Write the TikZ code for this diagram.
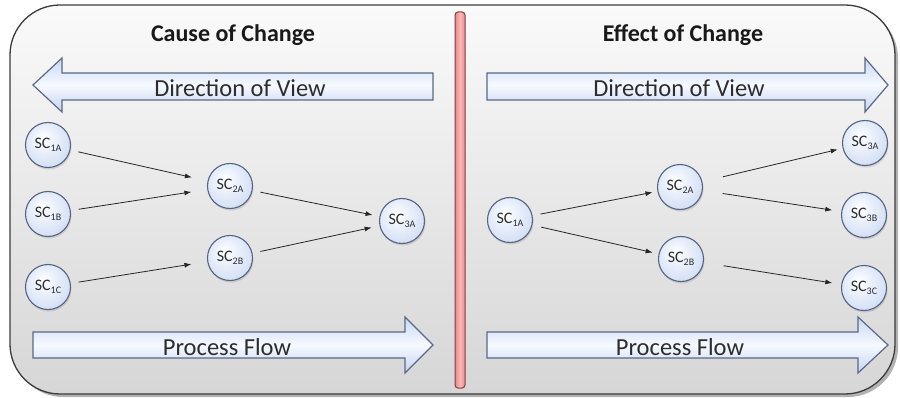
\documentclass[tikz,border=0pt]{standalone}
\usepackage{fontspec}
\setmainfont{Carlito}
\usetikzlibrary{arrows.meta,shadows}
\definecolor{panelborder}{RGB}{60,60,60}
\definecolor{paneltop}{RGB}{250,250,250}
\definecolor{panelbot}{RGB}{214,214,214}
\definecolor{arrborder}{RGB}{90,105,135}
\definecolor{arrtop}{RGB}{200,216,244}
\definecolor{arrmid}{RGB}{246,249,255}
\definecolor{arrbot}{RGB}{196,212,242}
\definecolor{ballborder}{RGB}{85,100,130}
\definecolor{ballhl}{RGB}{255,255,255}
\definecolor{ballin}{RGB}{236,242,252}
\definecolor{ballmid}{RGB}{205,218,242}
\definecolor{ballout}{RGB}{160,180,218}
\definecolor{textgray}{RGB}{45,45,45}
\definecolor{divfill}{RGB}{232,140,140}
\definecolor{divmid}{RGB}{248,185,185}
\definecolor{divborder}{RGB}{140,60,60}
\pgfdeclareradialshading{ballshade}{\pgfpoint{-6bp}{8bp}}{color(0bp)=(ballhl); color(12bp)=(ballin); color(34bp)=(ballmid); color(48bp)=(ballout); color(60bp)=(ballout)}
\newcommand{\subx}[1]{\raisebox{-0.45ex}{\fontsize{10}{10}\selectfont #1}}
\begin{document}
\begin{tikzpicture}[x=1pt,y=-1pt,
  panel/.style={draw=panelborder, line width=1.3pt, rounded corners=50pt, top color=paneltop, bottom color=panelbot},
  blockarrow/.style={draw=arrborder, line width=1.2pt, top color=arrtop, bottom color=arrbot, middle color=arrmid},
  ball/.style={circle, draw=ballborder, line width=1.1pt, minimum size=45pt, inner sep=0pt,
    shading=ballshade, text=textgray, font=\fontsize{16}{16}\selectfont,
    drop shadow={opacity=0.25, shadow xshift=1pt, shadow yshift=-2pt}},
  conn/.style={-{Latex[length=7pt,width=5pt]}, line width=0.8pt, draw=black!85},
  title/.style={font=\fontsize{24}{24}\selectfont\bfseries, text=black!90},
  arrlabel/.style={font=\fontsize{24.5}{24.5}\selectfont, text=textgray}
]
\useasboundingbox (0,0) rectangle (900,398);
% shadow of panel
\fill[black!30, rounded corners=50pt] (13,8) rectangle (898,397);
\path[panel] (10,5) rectangle (895,394);
% divider
\draw[divborder, line width=1pt, rounded corners=3pt, left color=divfill, right color=divfill, middle color=divmid] (455,12) rectangle (465,388);
% titles
\node[title] (t1) at (233,35) {Cause of Change};
\node[title] (t2) at (683,35) {Effect of Change};
% block arrows
\path[blockarrow] (433,73) -- (62,73) -- (62,58) -- (33,85) -- (62,112) -- (62,100) -- (433,100) -- cycle;
\path[blockarrow] (487,73) -- (865,73) -- (865,58) -- (888,85) -- (865,112) -- (865,100) -- (487,100) -- cycle;
\path[blockarrow] (33,332) -- (405,332) -- (405,317) -- (433,345) -- (405,373) -- (405,358) -- (33,358) -- cycle;
\path[blockarrow] (487,332) -- (858,332) -- (858,317) -- (888,345) -- (858,373) -- (858,358) -- (487,358) -- cycle;
\node[arrlabel] (d1) at (240,88) {Direction of View};
\node[arrlabel] (d2) at (679,88) {Direction of View};
\node[arrlabel] (p1) at (227,347) {Process Flow};
\node[arrlabel] (p2) at (680,347) {Process Flow};
% left nodes
\node[ball] (l1a) at (48,145) {SC\subx{1A}};
\node[ball] (l1b) at (48,214) {SC\subx{1B}};
\node[ball] (l1c) at (48,287) {SC\subx{1C}};
\node[ball] (l2a) at (230,186) {SC\subx{2A}};
\node[ball] (l2b) at (230,258) {SC\subx{2B}};
\node[ball] (l3a) at (402,221) {SC\subx{3A}};
% right nodes
\node[ball] (r1a) at (510,220) {SC\subx{1A}};
\node[ball] (r2a) at (680,187) {SC\subx{2A}};
\node[ball] (r2b) at (681,259) {SC\subx{2B}};
\node[ball] (r3a) at (865,143) {SC\subx{3A}};
\node[ball] (r3b) at (864,215) {SC\subx{3B}};
\node[ball] (r3c) at (864,288) {SC\subx{3C}};
% left connectors
\draw[conn, shorten <=8pt, shorten >=16pt] (l1a) -- (l2a);
\draw[conn, shorten <=8pt, shorten >=16pt] (l1b) -- (l2a);
\draw[conn, shorten <=8pt, shorten >=16pt] (l1c) -- (l2b);
\draw[conn, shorten <=8pt, shorten >=7pt] (l2a) -- (l3a);
\draw[conn, shorten <=8pt, shorten >=8pt] (l2b) -- (l3a);
% right connectors
\draw[conn, shorten <=8pt, shorten >=5pt] (r1a) -- (r2a);
\draw[conn, shorten <=9pt, shorten >=6pt] (r1a) -- (r2b);
\draw[conn, shorten <=21pt, shorten >=5pt] (r2a) -- (r3a);
\draw[conn, shorten <=20pt, shorten >=9pt] (r2a) -- (r3b);
\draw[conn, shorten <=20pt, shorten >=9pt] (r2b) -- (r3c);
\end{tikzpicture}
\end{document}
